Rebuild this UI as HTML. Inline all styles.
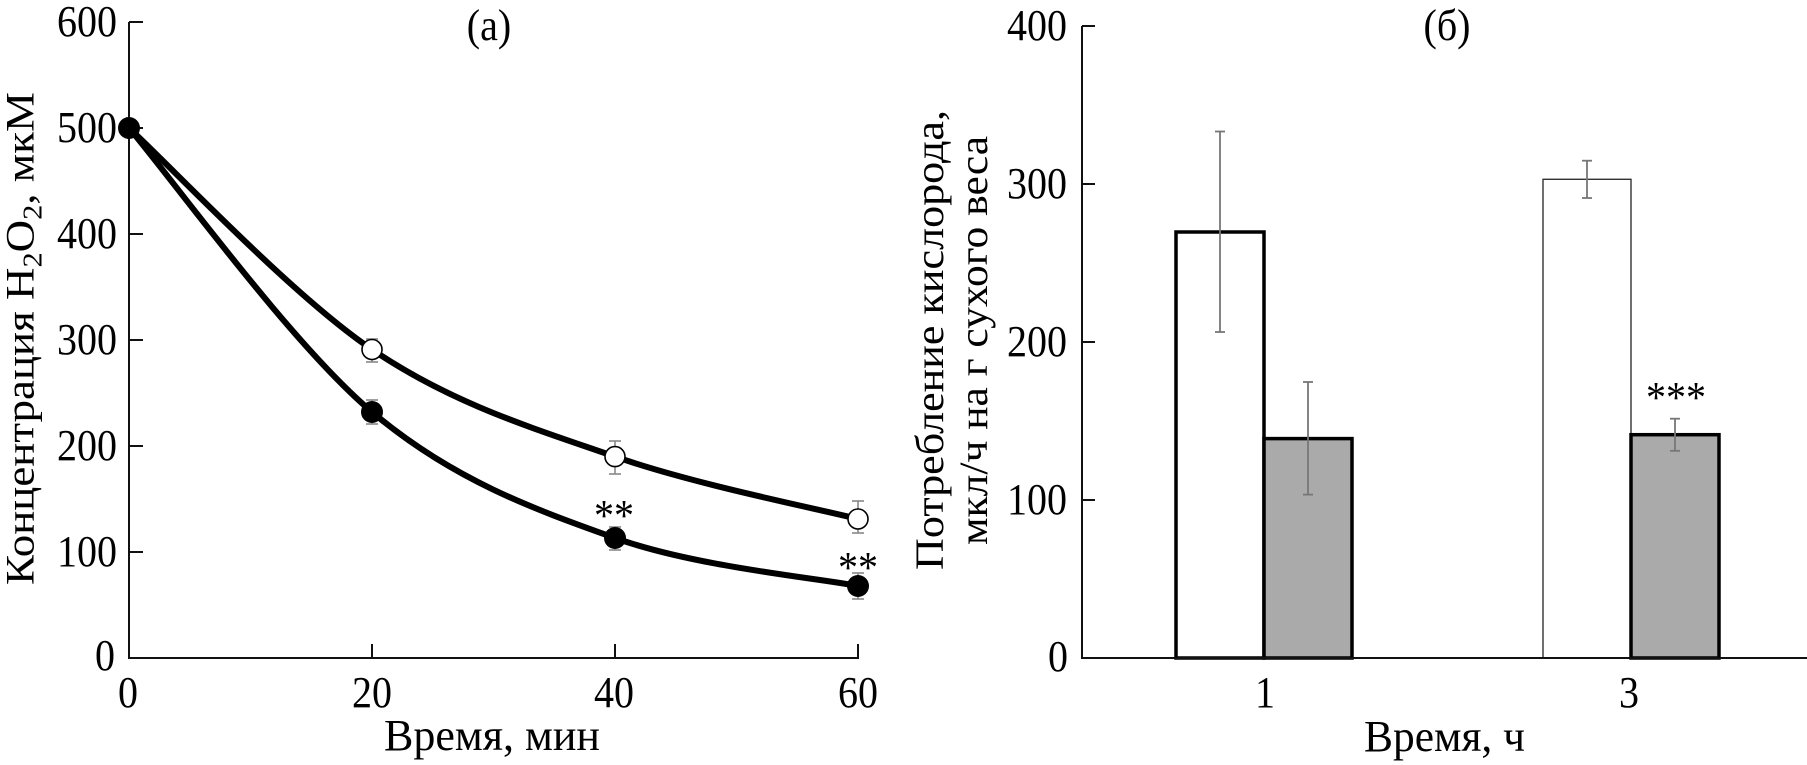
<!DOCTYPE html>
<html>
<head>
<meta charset="utf-8">
<style>
  html, body { margin: 0; padding: 0; background: #fff; }
  svg { display: block; }
  text { font-family: "Liberation Serif", "Noto Serif CJK SC", serif; fill: #000; }
</style>
</head>
<body>
<svg width="1807" height="765" viewBox="0 0 1807 765" xmlns="http://www.w3.org/2000/svg">
  <rect x="0" y="0" width="1807" height="765" fill="#fff"/>

  <!-- ================= LEFT PANEL (a) ================= -->
  <!-- axes -->
  <g stroke="#111" stroke-width="2" fill="none">
    <line x1="129" y1="22" x2="129" y2="658"/>
    <line x1="128" y1="658" x2="859" y2="658"/>
    <!-- y ticks -->
    <line x1="129" y1="22" x2="143" y2="22"/>
    <line x1="129" y1="128" x2="143" y2="128"/>
    <line x1="129" y1="234" x2="143" y2="234"/>
    <line x1="129" y1="340" x2="143" y2="340"/>
    <line x1="129" y1="446" x2="143" y2="446"/>
    <line x1="129" y1="552" x2="143" y2="552"/>
    <!-- x ticks -->
    <line x1="372" y1="658" x2="372" y2="644"/>
    <line x1="615" y1="658" x2="615" y2="644"/>
    <line x1="858" y1="658" x2="858" y2="644"/>
  </g>

  <!-- y tick labels -->
  <g font-size="44" text-anchor="end">
    <text transform="translate(117,36) scale(0.91,1)">600</text>
    <text transform="translate(117,142) scale(0.91,1)">500</text>
    <text transform="translate(117,248) scale(0.91,1)">400</text>
    <text transform="translate(117,354) scale(0.91,1)">300</text>
    <text transform="translate(117,460) scale(0.91,1)">200</text>
    <text transform="translate(117,566) scale(0.91,1)">100</text>
    <text transform="translate(115,670) scale(0.91,1)">0</text>
  </g>
  <!-- x tick labels -->
  <g font-size="44" text-anchor="middle">
    <text transform="translate(128,707) scale(0.91,1)">0</text>
    <text transform="translate(372,707) scale(0.91,1)">20</text>
    <text transform="translate(614,707) scale(0.91,1)">40</text>
    <text transform="translate(858,707) scale(0.91,1)">60</text>
  </g>

  <!-- axis titles -->
  <text x="384" y="750" font-size="44" textLength="216" lengthAdjust="spacingAndGlyphs">Время, мин</text>
  <text transform="translate(33.5,585) rotate(-90)" x="0" y="0" font-size="40" textLength="493" lengthAdjust="spacingAndGlyphs">Концентрация H<tspan dy="8" font-size="27">2</tspan><tspan dy="-8">O</tspan><tspan dy="8" font-size="27">2</tspan><tspan dy="-8">, мкМ</tspan></text>

  <!-- panel label -->
  <text transform="translate(489,40) scale(0.91,1)" font-size="44" text-anchor="middle">(a)</text>

  <!-- error bars (left) -->
  <g stroke="#888" stroke-width="1.6" fill="none">
    <line x1="372" y1="339" x2="372" y2="362"/><line x1="366" y1="339" x2="378" y2="339"/><line x1="366" y1="362" x2="378" y2="362"/>
    <line x1="372" y1="400" x2="372" y2="424"/><line x1="366" y1="400" x2="378" y2="400"/><line x1="366" y1="424" x2="378" y2="424"/>
    <line x1="615" y1="441" x2="615" y2="474"/><line x1="609" y1="441" x2="621" y2="441"/><line x1="609" y1="474" x2="621" y2="474"/>
    <line x1="615" y1="527" x2="615" y2="550"/><line x1="609" y1="527" x2="621" y2="527"/><line x1="609" y1="550" x2="621" y2="550"/>
    <line x1="858" y1="501" x2="858" y2="533"/><line x1="852" y1="501" x2="864" y2="501"/><line x1="852" y1="533" x2="864" y2="533"/>
    <line x1="858" y1="573" x2="858" y2="599"/><line x1="852" y1="573" x2="864" y2="573"/><line x1="852" y1="599" x2="864" y2="599"/>
  </g>

  <!-- curves -->
  <g stroke="#000" stroke-width="6" fill="none" stroke-linecap="round" stroke-linejoin="round">
    <path d="M129,128 C169.5,164.9 291,294.7 372,349.5 C453,404.3 534,428.4 615,456.6 C696,484.9 817.5,508.6 858,519"/>
    <path d="M129,128 C169.5,175.3 291,343.7 372,412 C453,480.3 534,509 615,538 C696,567 817.5,578 858,586"/>
  </g>

  <!-- markers -->
  <g fill="#fff" stroke="#000" stroke-width="1.6">
    <circle cx="372" cy="349.5" r="10"/>
    <circle cx="615" cy="456.6" r="10"/>
    <circle cx="858" cy="519" r="10"/>
  </g>
  <g fill="#000">
    <circle cx="129" cy="128" r="11"/>
    <circle cx="372" cy="412" r="11"/>
    <circle cx="615" cy="538" r="11"/>
    <circle cx="858" cy="586" r="11"/>
  </g>

  <!-- significance -->
  <g font-size="44" text-anchor="middle">
    <text transform="translate(614,530) scale(0.91,1)">**</text>
    <text transform="translate(858,582) scale(0.91,1)">**</text>
  </g>

  <!-- ================= RIGHT PANEL (б) ================= -->
  <g stroke="#111" stroke-width="2" fill="none">
    <line x1="1082" y1="26" x2="1082" y2="658"/>
    <line x1="1081" y1="658" x2="1807" y2="658"/>
    <line x1="1082" y1="26" x2="1095" y2="26"/>
    <line x1="1082" y1="184" x2="1095" y2="184"/>
    <line x1="1082" y1="342" x2="1095" y2="342"/>
    <line x1="1082" y1="500" x2="1095" y2="500"/>
  </g>

  <g font-size="44" text-anchor="end">
    <text transform="translate(1067,40) scale(0.91,1)">400</text>
    <text transform="translate(1067,198) scale(0.91,1)">300</text>
    <text transform="translate(1067,356) scale(0.91,1)">200</text>
    <text transform="translate(1067,514) scale(0.91,1)">100</text>
    <text transform="translate(1068,671) scale(0.91,1)">0</text>
  </g>

  <g font-size="44" text-anchor="middle">
    <text transform="translate(1265,707) scale(0.91,1)">1</text>
    <text transform="translate(1629,707) scale(0.91,1)">3</text>
  </g>

  <text x="1364" y="751" font-size="44" textLength="161" lengthAdjust="spacingAndGlyphs">Время, ч</text>

  <text transform="translate(943,570) rotate(-90)" x="0" y="0" font-size="40" textLength="460" lengthAdjust="spacingAndGlyphs">Потребление кислорода,</text>
  <text transform="translate(987,545) rotate(-90)" x="0" y="0" font-size="40" textLength="409" lengthAdjust="spacingAndGlyphs">мкл/ч на г сухого веса</text>

  <text transform="translate(1447,40) scale(0.91,1)" font-size="44" text-anchor="middle">(б)</text>

  <!-- bars -->
  <rect x="1176" y="232" width="88" height="426" fill="#fff" stroke="#000" stroke-width="3.5"/>
  <rect x="1264" y="438.6" width="88" height="219.4" fill="#aaa" stroke="#000" stroke-width="3.5"/>
  <rect x="1543" y="179.3" width="88" height="478.7" fill="#fff" stroke="#333" stroke-width="1.4"/>
  <rect x="1631" y="434.7" width="88" height="223.3" fill="#aaa" stroke="#000" stroke-width="3.5"/>
  <line x1="1081" y1="658" x2="1807" y2="658" stroke="#111" stroke-width="2"/>

  <!-- error bars (right) -->
  <g stroke="#777" stroke-width="1.8" fill="none">
    <line x1="1220" y1="131.5" x2="1220" y2="332"/><line x1="1215" y1="131.5" x2="1225" y2="131.5"/><line x1="1215" y1="332" x2="1225" y2="332"/>
    <line x1="1308" y1="382" x2="1308" y2="494.6"/><line x1="1303" y1="382" x2="1313" y2="382"/><line x1="1303" y1="494.6" x2="1313" y2="494.6"/>
    <line x1="1587" y1="160.7" x2="1587" y2="198"/><line x1="1582" y1="160.7" x2="1592" y2="160.7"/><line x1="1582" y1="198" x2="1592" y2="198"/>
    <line x1="1675" y1="418.7" x2="1675" y2="450.8"/><line x1="1670" y1="418.7" x2="1680" y2="418.7"/><line x1="1670" y1="450.8" x2="1680" y2="450.8"/>
  </g>

  <text transform="translate(1676,412) scale(0.91,1)" font-size="44" text-anchor="middle">***</text>
</svg>
</body>
</html>
